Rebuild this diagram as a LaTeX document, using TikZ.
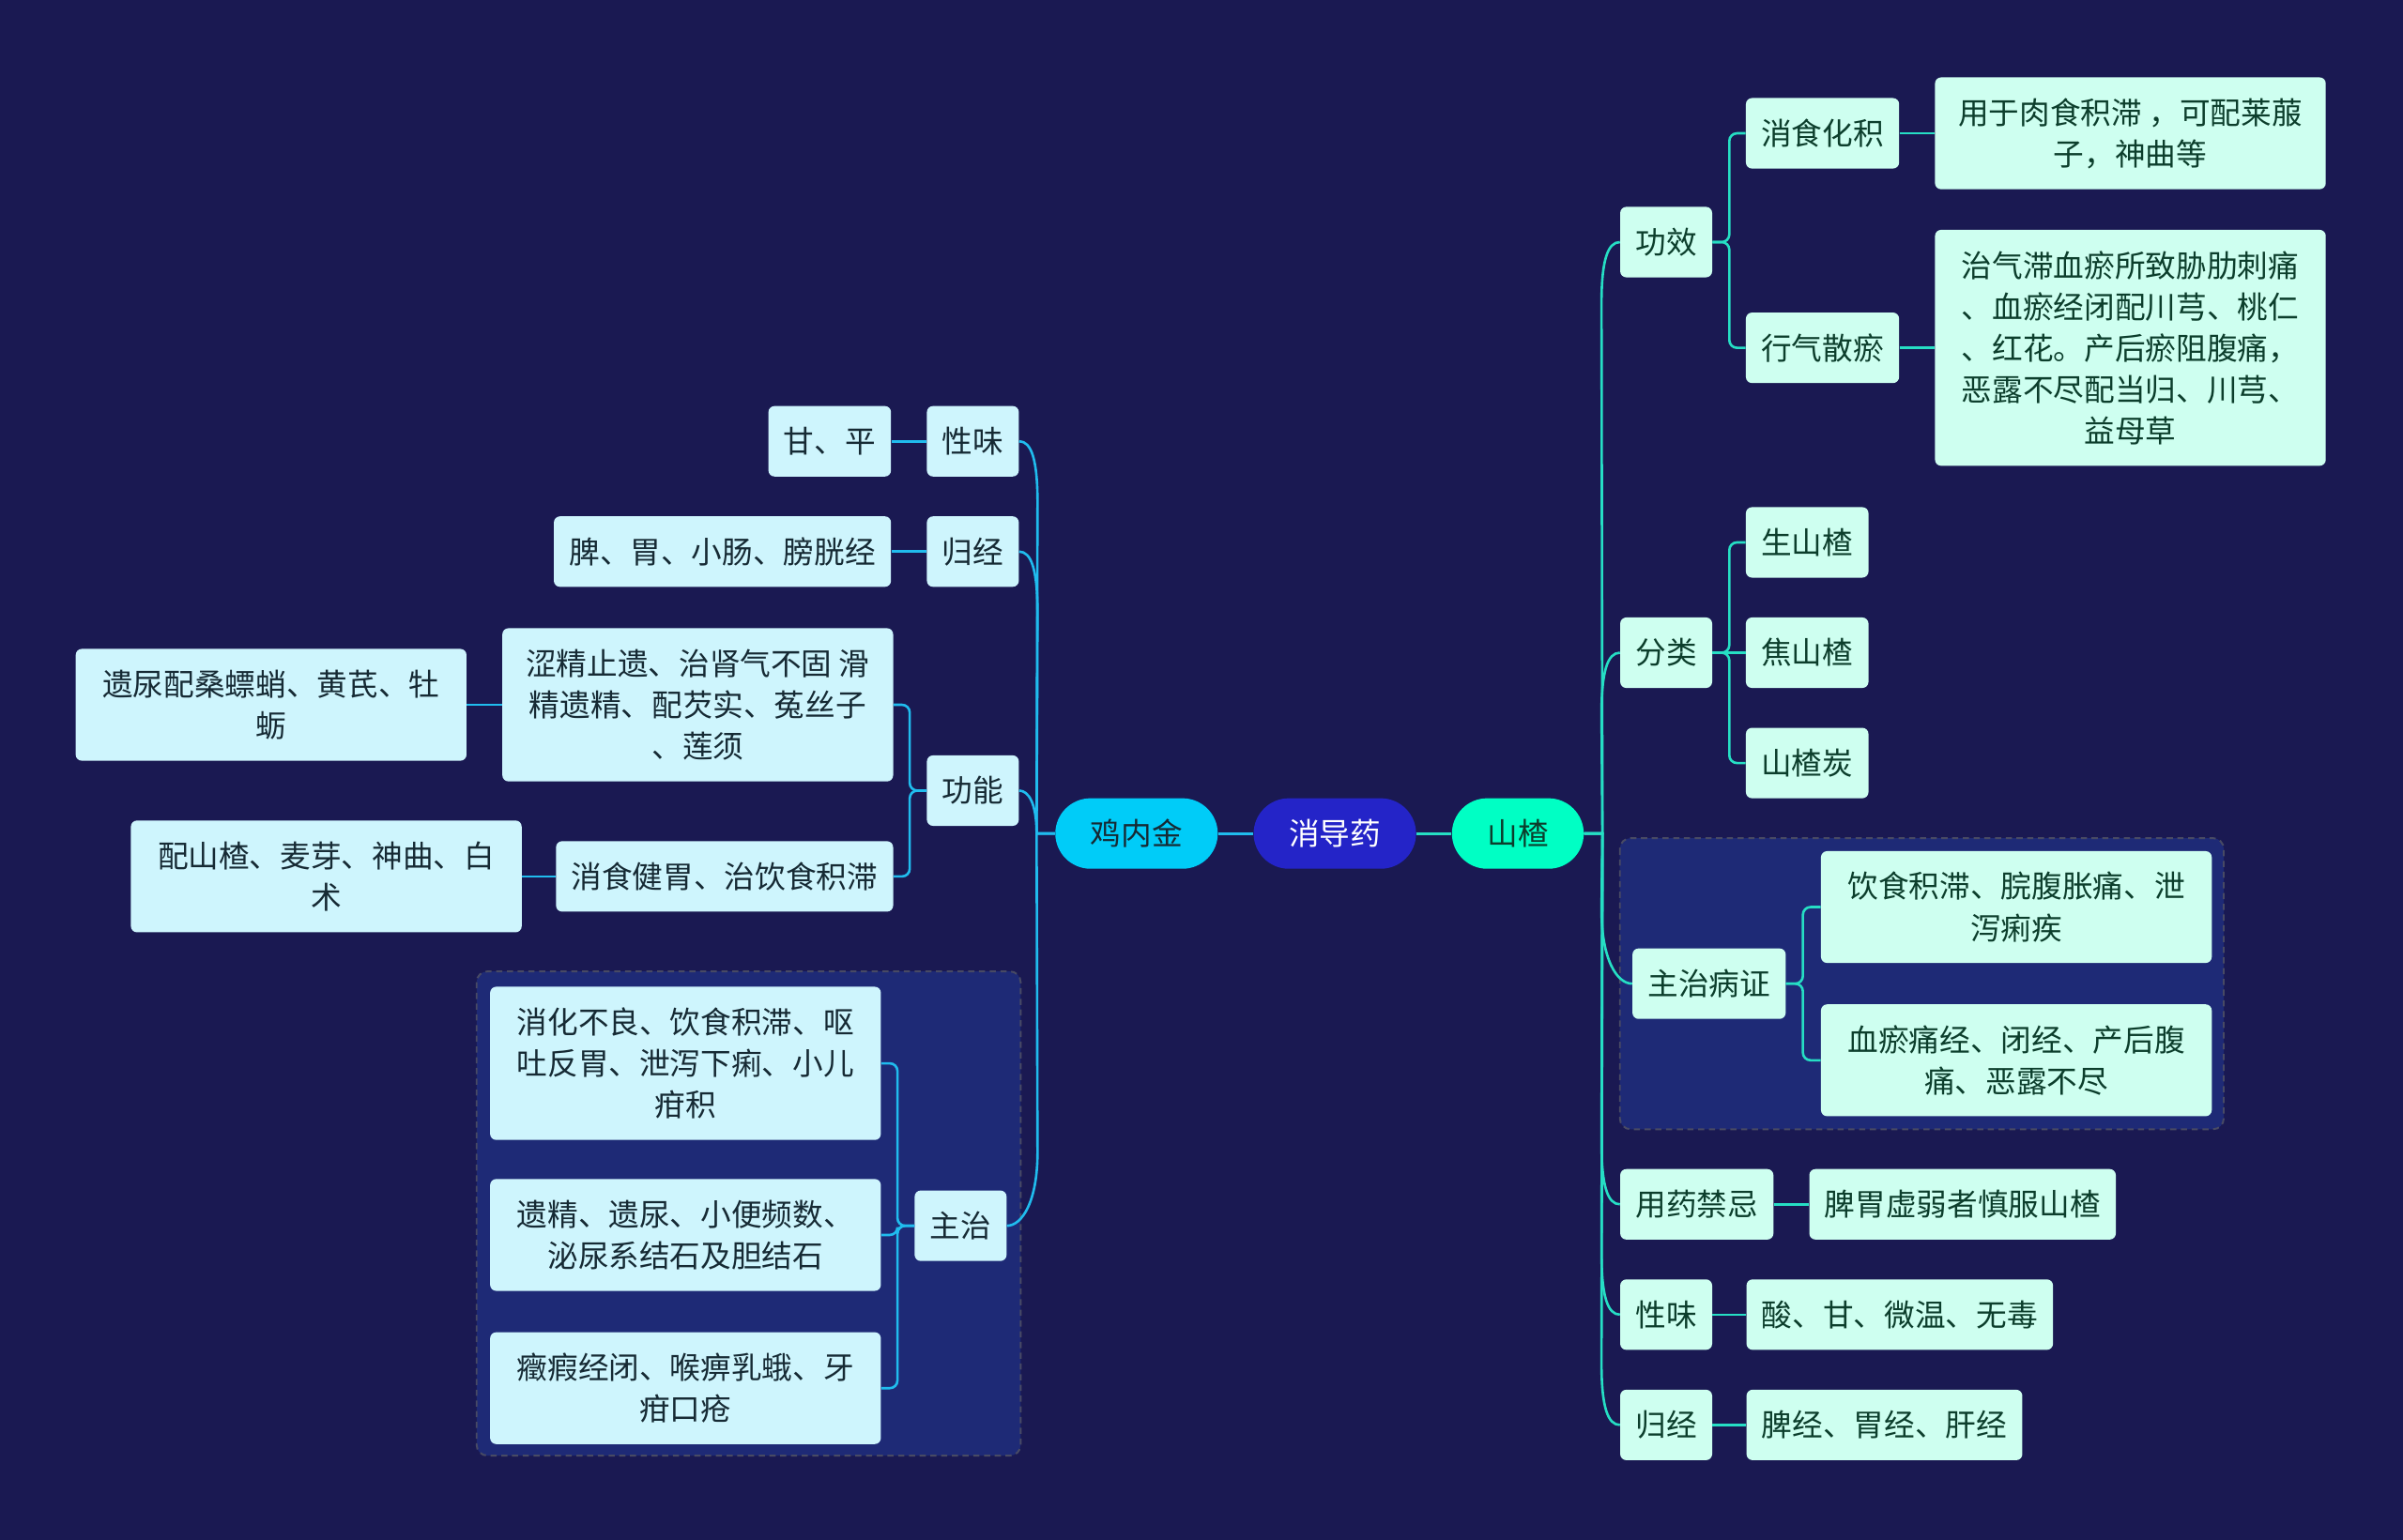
\documentclass[tikz,border=0pt]{standalone}
\usepackage{fontspec}
\newfontfamily\cjk{Noto Sans CJK SC}
\usetikzlibrary{positioning}

\definecolor{bgnavy}{RGB}{26,25,82}
\definecolor{grpblue}{RGB}{30,42,118}
\definecolor{grpedge}{RGB}{72,74,100}
\definecolor{jline}{RGB}{32,188,238}
\definecolor{sline}{RGB}{38,222,196}
\definecolor{jfill}{RGB}{206,245,253}
\definecolor{sfill}{RGB}{206,255,240}
\definecolor{jtext}{RGB}{22,42,52}
\definecolor{stext}{RGB}{12,62,44}
\definecolor{xdyfill}{RGB}{36,36,200}
\definecolor{jnjfill}{RGB}{0,204,248}
\definecolor{szfill}{RGB}{0,255,196}

\begin{document}
\begin{tikzpicture}[
    x=1pt, y=-1pt,
    every node/.style={font=\cjk\fontsize{20}{27}\selectfont},
    root/.style={
        rectangle,
        rounded corners=23pt,
        minimum width=86pt,
        minimum height=46pt,
        inner xsep=23pt,
        inner ysep=0pt
    },
    jbox/.style={
        rectangle,
        rounded corners=4pt,
        fill=jfill,
        text=jtext,
        align=center,
        inner xsep=10pt,
        inner ysep=4pt
    },
    sbox/.style={jbox, fill=sfill, text=stext},
    wide/.style={minimum width=255pt},
    l1/.style={minimum height=46pt},
    l2/.style={minimum height=73pt},
    l3/.style={minimum height=100pt},
    l5/.style={minimum height=154pt},
    grp/.style={
        rounded corners=7pt,
        fill=grpblue,
        draw=grpedge,
        dash pattern=on 4pt off 3pt,
        line width=1.2pt
    },
    jlink/.style={draw=jline, line width=1.6pt},
    slink/.style={draw=sline, line width=1.6pt}
]

    \fill [bgnavy] (0,0) rectangle (1568,1005);
    \useasboundingbox (0,0) rectangle (1568,1005);

    \draw [grp] (311,634) rectangle (666,950);
    \draw [grp] (1057,547) rectangle (1451,737);

    \node (xdy) [root, fill=xdyfill, text=white] at (871,544) {消导药};
    \node (jnj) [root, fill=jnjfill, text=jtext, left=23pt of xdy] {鸡内金};
    \node (sz)  [root, fill=szfill, text=stext, right=23pt of xdy] {山楂};

    \node (jxw) [jbox, l1, anchor=east] at (665,288) {性味};
    \node (jgj) [jbox, l1, anchor=east] at (665,360) {归经};
    \node (jgn) [jbox, l1, anchor=east] at (665,516) {功能};
    \node (jzz) [jbox, l1, anchor=east] at (657,800) {主治};

    \node (gp) [jbox, l1, left=23pt of jxw] {甘、平};
    \node (pw) [jbox, l1, left=23pt of jgj] {脾、胃、小肠、膀胱经};

    \node (sjzy) [jbox, l3, wide, anchor=east] at (583,460) {
        涩精止遗、治肾气不固 滑\\精遗精、配芡实、菟丝子\\、莲须
    };
    \node (xsjw) [jbox, l1, anchor=east] at (583,572) {消食健胃、治饮食积滞};
    \node (ynp) [jbox, l2, wide, left=23pt of sjzy] {遗尿配桑螵蛸、黄芪、牡\\蛎};
    \node (psz) [jbox, l2, wide, left=22pt of xsjw] {配山楂、麦芽、神曲、白\\术};

    \node (xhbl) [jbox, l3, wide, anchor=east] at (575,694) {
        消化不良、饮食积滞、呕\\吐反胃、泄泻下痢、小儿\\疳积
    };
    \node (yjyn) [jbox, l2, wide, anchor=east] at (575,806) {
        遗精、遗尿、小便频数、\\泌尿系结石及胆结石
    };
    \node (zjbj) [jbox, l2, wide, anchor=east] at (575,906) {
        癥瘕经闭、喉痹乳蛾、牙\\疳口疮
    };

    \node (sgx) [sbox, l1, anchor=west] at (1057,158) {功效};
    \node (sfl) [sbox, l1, anchor=west] at (1057,426) {分类};
    \node (szz) [sbox, l1, anchor=west] at (1065,642) {主治病证};
    \node (syj) [sbox, l1, anchor=west] at (1057,786) {用药禁忌};
    \node (sxw) [sbox, l1, anchor=west] at (1057,858) {性味};
    \node (sgj) [sbox, l1, anchor=west] at (1057,930) {归经};

    \node (xshj) [sbox, l1, anchor=west] at (1139,87) {消食化积};
    \node (xqsy) [sbox, l1, anchor=west] at (1139,227) {行气散瘀};
    \node (yyrs) [sbox, l2, wide, right=23pt of xshj] {用于肉食积滞 ，可配莱菔\\子，神曲等};
    \node (zqzx) [sbox, l5, wide, right=23pt of xqsy] {
        治气滞血瘀所致胁肋刺痛\\、血瘀经闭配川芎、桃仁\\、红花。产后瘀阻腹痛，\\恶露不尽配当归、川芎、\\益母草
    };

    \node (ssz) [sbox, l1, anchor=west] at (1139,354) {生山楂};
    \node (jsz) [sbox, l1, anchor=west] at (1139,426) {焦山楂};
    \node (szt) [sbox, l1, anchor=west] at (1139,498) {山楂炭};

    \node (ysjz) [sbox, l2, wide, anchor=west] at (1188,592) {饮食积滞、脘腹胀痛、泄\\泻痢疾};
    \node (xytj) [sbox, l2, wide, anchor=west] at (1188,692) {血瘀痛经、闭经、产后腹\\痛、恶露不尽};

    \node (pwxr) [sbox, l1, right=23pt of syj] {脾胃虚弱者慎服山楂};
    \node (sgwm) [sbox, l1, right=22pt of sxw] {酸、甘、微温、无毒};
    \node (pjwj) [sbox, l1, right=22pt of sgj] {脾经、胃经、肝经};

    \draw [jlink, line width=2pt] (xdy) -- (jnj);
    \draw [slink, line width=2pt] (xdy) -- (sz);

    \foreach \kid in {jxw, jgj}
        \draw [jlink] (jnj.west) -- ++(-12,0) -- ([shift={(12,40)}]\kid.east)
            .. controls +(0,-28) and +(8,0) .. (\kid.east);
    \draw [jlink] (jnj.west) -- ++(-12,0) .. controls +(0,-20) and +(6,0) .. (jgn.east);
    \draw [jlink] (jnj.west) -- ++(-12,0) -- ([shift={(20,-48)}]jzz.east)
        .. controls +(0,32) and +(10,0) .. (jzz.east);

    \foreach \kid in {sgx, sfl}
        \draw [slink] (sz.east) -- ++(12,0) -- ([shift={(-12,40)}]\kid.west)
            .. controls +(0,-28) and +(-8,0) .. (\kid.west);
    \foreach \kid in {syj, sxw, sgj}
        \draw [slink] (sz.east) -- ++(12,0) -- ([shift={(-12,-40)}]\kid.west)
            .. controls +(0,28) and +(-8,0) .. (\kid.west);
    \draw [slink] (sz.east) -- ++(12,0) -- ([shift={(-20,-48)}]szz.west)
        .. controls +(0,32) and +(-10,0) .. (szz.west);

    \draw [jlink] (jxw) -- (gp);
    \draw [jlink] (jgj) -- (pw);
    \foreach \kid in {sjzy, xsjw}
        \draw [jlink, rounded corners=5pt] (jgn.west) -- ++(-11,0) |- (\kid.east);
    \draw [jlink] (sjzy) -- (ynp);
    \draw [jlink] (xsjw) -- (psz);
    \foreach \kid in {xhbl, yjyn, zjbj}
        \draw [jlink, rounded corners=5pt] (jzz.west) -- ++(-11,0) |- (\kid.east);

    \foreach \kid in {xshj, xqsy}
        \draw [slink, rounded corners=5pt] (sgx.east) -- ++(11,0) |- (\kid.west);
    \draw [slink] (xshj) -- (yyrs);
    \draw [slink] (xqsy) -- (zqzx);
    \foreach \kid in {ssz, szt}
        \draw [slink, rounded corners=5pt] (sfl.east) -- ++(11,0) |- (\kid.west);
    \draw [slink] (sfl) -- (jsz);
    \foreach \kid in {ysjz, xytj}
        \draw [slink, rounded corners=5pt] (szz.east) -- ++(11,0) |- (\kid.west);
    \draw [slink] (syj) -- (pwxr);
    \draw [slink] (sxw) -- (sgwm);
    \draw [slink] (sgj) -- (pjwj);

\end{tikzpicture}
\end{document}
